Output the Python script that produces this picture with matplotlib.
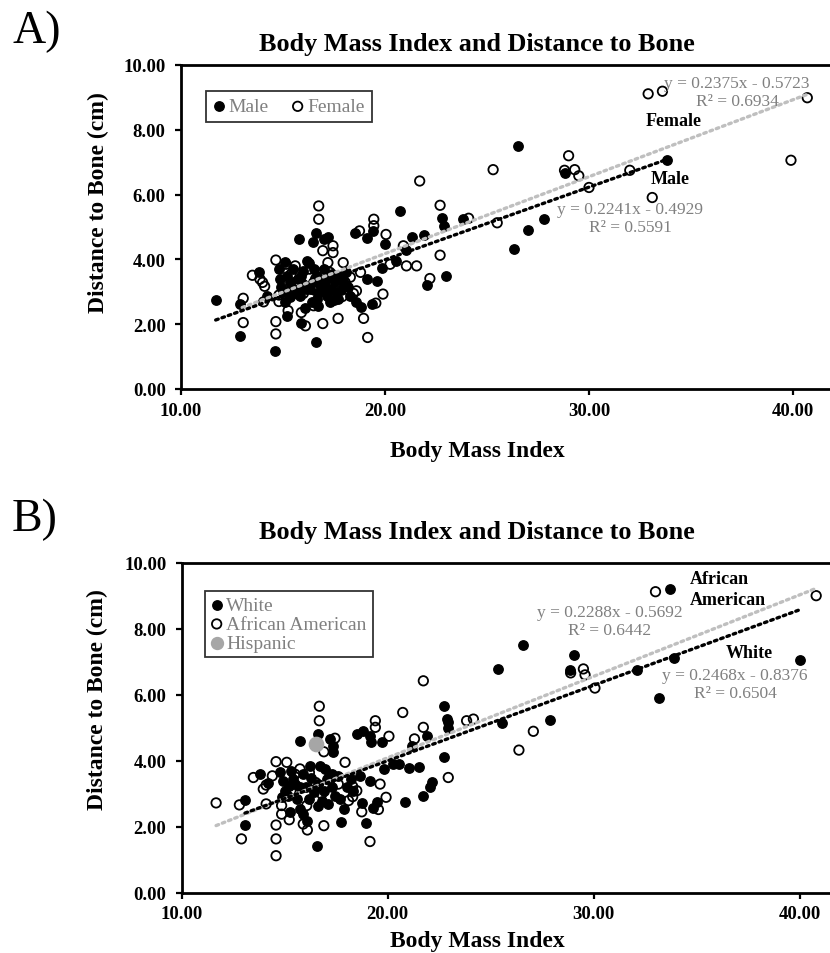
import matplotlib
matplotlib.use('Agg')
import matplotlib.pyplot as plt

plt.rcParams['font.family'] = ['Liberation Serif', 'DejaVu Serif']

# ---------------- data (BMI, distance to bone in cm) ----------------
a_male = [
    (11.7, 2.75), (12.9, 1.64), (12.9, 2.62), (13.8, 3.62), (14.2, 2.86), (14.6, 1.18),
    (15.2, 2.25), (15.8, 4.62), (16.6, 1.45), (16.6, 4.80), (16.45, 4.55), (17.0, 4.62),
    (17.2, 4.70), (15.9, 2.04), (16.1, 2.50), (16.7, 2.55), (17.7, 2.78), (18.3, 2.88),
    (18.6, 2.70), (18.8, 2.52), (18.55, 4.83), (19.1, 4.65), (19.4, 4.88), (19.1, 3.41),
    (19.35, 2.62), (19.6, 3.34), (19.85, 3.75), (20.0, 4.49), (20.55, 3.94), (20.75, 5.48),
    (21.05, 4.29), (21.3, 4.68), (21.9, 4.75), (22.05, 3.22), (22.8, 5.27), (22.9, 5.04),
    (23.0, 3.49), (23.8, 5.24), (26.3, 4.32), (26.5, 7.49), (27.0, 4.90), (27.8, 5.24),
    (28.8, 6.68), (33.8, 7.08),
    (14.8, 3.70), (14.85, 3.40), (15.2, 3.50), (15.35, 3.30), (15.5, 3.08), (15.75, 3.40),
    (16.0, 3.65), (16.25, 3.90), (16.15, 3.08), (16.45, 3.30), (16.65, 3.50), (16.9, 3.08),
    (17.05, 3.30), (17.3, 3.08), (17.55, 3.30), (17.7, 3.50), (17.95, 3.40), (18.1, 3.60),
    (17.0, 3.70), (15.5, 3.70), (15.85, 2.88), (16.65, 2.78), (17.15, 2.88), (17.3, 2.67),
    (15.35, 2.83), (15.1, 2.67), (16.4, 2.67), (17.6, 2.98), (16.3, 3.10), (15.0, 3.00),
    (15.6, 2.95), (16.8, 3.20), (17.4, 3.55), (18.2, 3.15), (16.0, 3.25), (15.1, 3.91),
    (16.2, 3.96), (14.9, 3.15), (15.9, 3.50), (16.5, 3.70), (17.2, 3.45), (17.85, 3.05),
    (15.4, 3.15), (16.7, 2.95), (17.5, 2.75), (18.0, 3.25), (15.7, 3.05),
]
a_female = [
    (13.05, 2.80), (13.05, 2.05), (13.5, 3.51), (13.87, 3.39), (14.0, 3.29), (14.1, 3.17),
    (14.05, 2.69), (14.65, 3.98), (14.65, 2.08), (14.65, 1.70), (14.8, 2.70), (14.8, 2.90),
    (15.15, 3.85), (15.25, 2.42), (15.9, 2.36), (16.1, 1.95), (16.5, 2.57), (16.95, 2.02),
    (16.75, 5.65), (16.75, 5.24), (16.95, 4.27), (17.45, 4.42), (17.45, 4.21), (17.2, 3.90),
    (17.3, 3.60), (17.95, 3.90), (17.7, 2.18), (18.05, 3.29), (18.6, 3.03), (18.8, 3.60),
    (18.95, 2.18), (19.15, 1.59), (18.75, 4.88), (19.45, 5.24), (19.45, 5.04), (20.05, 4.77),
    (19.9, 2.93), (19.55, 2.65), (20.25, 3.85), (20.9, 4.42), (21.05, 3.80), (21.55, 3.80),
    (21.7, 6.42), (22.2, 3.41), (22.7, 5.67), (22.7, 4.13), (24.1, 5.27), (25.3, 6.77),
    (25.5, 5.13), (28.8, 6.75), (29.0, 7.20), (29.3, 6.77), (29.5, 6.58), (30.0, 6.22),
    (32.0, 6.75), (33.1, 5.91), (32.9, 9.11), (33.6, 9.19), (40.7, 8.99), (39.9, 7.06),
    (15.6, 3.80), (16.3, 3.70), (16.6, 3.40), (15.8, 3.20), (17.7, 3.20), (16.0, 2.95),
    (18.3, 3.45), (18.45, 2.95), (15.4, 3.55), (16.9, 3.60), (17.9, 2.85), (16.55, 3.05),
]
b_white = [
    (13.07, 2.83), (13.07, 2.06), (13.8, 3.60), (14.2, 3.32), (14.77, 3.66), (14.9, 3.40),
    (14.85, 2.90), (15.17, 2.95), (15.26, 2.45), (15.74, 4.62), (16.6, 4.82), (16.55, 1.43),
    (17.2, 4.67), (17.36, 4.46), (17.36, 4.26), (16.05, 3.20), (16.23, 3.86), (15.5, 3.30),
    (15.74, 3.20), (16.7, 3.86), (16.96, 3.76), (17.04, 3.45), (17.28, 3.20), (17.44, 2.95),
    (17.68, 2.85), (17.73, 2.14), (18.0, 3.20), (18.66, 3.55), (18.95, 2.12), (18.74, 2.73),
    (19.14, 3.38), (19.3, 2.57), (19.47, 2.75), (18.5, 4.82), (18.8, 4.92), (19.14, 4.77),
    (19.2, 4.57), (19.7, 4.57), (19.83, 3.76), (20.27, 3.91), (20.55, 3.90), (16.63, 2.65),
    (15.74, 2.55), (15.9, 2.39), (16.07, 2.19), (20.84, 2.77), (21.05, 3.78), (21.16, 4.46),
    (21.53, 3.81), (21.73, 2.93), (21.92, 4.75), (22.06, 3.20), (22.14, 3.37), (22.73, 5.68),
    (22.73, 4.11), (22.94, 5.19), (22.86, 5.27), (22.94, 5.00), (25.53, 5.14), (25.37, 6.78),
    (26.55, 7.52), (27.88, 5.25), (28.85, 6.77), (29.06, 7.22), (32.09, 6.77), (33.18, 5.92),
    (33.7, 9.22), (33.91, 7.11), (40.0, 7.07),
    (15.0, 3.10), (15.3, 3.70), (15.6, 2.85), (16.3, 3.50), (16.4, 3.05), (16.9, 3.10),
    (17.1, 2.70), (17.6, 3.55), (18.2, 3.45), (16.2, 2.85), (15.4, 3.45), (17.9, 2.55),
    (15.9, 3.60), (16.6, 3.30), (17.3, 3.60), (15.2, 3.25), (16.8, 2.80), (18.3, 3.10),
]
b_african_american = [
    (11.67, 2.73), (12.8, 2.67), (12.9, 1.64), (13.48, 3.50), (13.96, 3.15), (14.1, 3.27),
    (14.1, 2.70), (14.58, 3.98), (14.58, 2.06), (14.58, 1.64), (14.58, 1.13), (14.85, 2.65),
    (14.85, 2.39), (15.1, 3.96), (15.22, 2.22), (15.74, 3.76), (16.07, 2.65), (15.9, 2.09),
    (16.1, 1.91), (16.68, 5.66), (16.68, 5.22), (16.9, 4.28), (16.9, 2.04), (17.44, 4.69),
    (17.93, 3.96), (18.3, 3.23), (18.3, 2.92), (18.74, 2.46), (19.14, 1.56), (19.4, 5.22),
    (19.4, 5.02), (19.63, 3.30), (19.55, 2.53), (19.92, 2.90), (20.06, 4.75), (20.73, 5.47),
    (21.3, 4.67), (21.73, 6.43), (21.73, 5.02), (22.94, 3.50), (23.83, 5.22), (24.16, 5.27),
    (27.07, 4.90), (26.37, 4.33), (28.88, 6.67), (29.5, 6.79), (29.58, 6.61), (30.06, 6.21),
    (33.0, 9.13), (40.8, 9.01),
    (15.5, 3.60), (16.2, 3.65), (16.5, 3.35), (17.2, 3.55), (17.6, 3.30), (18.1, 2.80),
    (15.3, 3.10), (16.8, 3.00), (18.5, 3.10), (14.4, 3.55),
]
b_hispanic = [(16.5, 4.52)]

# trendlines: slope, intercept, R^2, x-start, x-end
a_trend_female = (0.2375, -0.5723, 0.6934, 13.0, 40.7)   # light gray dotted
a_trend_male = (0.2241, -0.4929, 0.5591, 11.7, 33.8)     # black dotted
b_trend_gray = (0.2468, -0.8376, 0.6504, 11.67, 40.8)    # light gray dotted
b_trend_black = (0.2288, -0.5692, 0.6442, 13.07, 40.0)   # black dotted

x_ticks = [10, 20, 30, 40]
y_ticks = [0, 2, 4, 6, 8, 10]

# ---------------- figure ----------------
W, H = 830, 954
fig = plt.figure(figsize=(W / 100, H / 100), dpi=100)


def fx(px):
    return px / W


def fy(py):
    return 1 - py / H


GRAY_TXT = '#808080'
LIGHT = '#bfbfbf'


def unzip(pts):
    return [p[0] for p in pts], [p[1] for p in pts]


def trend(ax, coef, color):
    m, b, r2, x0, x1 = coef
    xs = [x0, x1]
    ys = [m * x + b for x in xs]
    ax.plot(xs, ys, color=color, lw=2.4, linestyle=(0, (0.8, 1.2)),
            dash_capstyle='round', zorder=5)


def eq_text(coef):
    m, b, r2, x0, x1 = coef
    return f"y = {m:.4f}x - {abs(b):.4f}\nR\u00b2 = {r2:.4f}"


def style_axes(ax, xmax):
    ax.set_xlim(10, xmax)
    ax.set_ylim(0, 10)
    ax.set_xticks(x_ticks)
    ax.set_yticks(y_ticks)
    ax.set_xticklabels([f"{v:.2f}" for v in x_ticks], fontweight='bold', fontsize=13.5)
    ax.set_yticklabels([f"{v:.2f}" for v in y_ticks], fontweight='bold', fontsize=13.5)
    ax.spines['right'].set_visible(False)
    for s in ['left', 'bottom', 'top']:
        ax.spines[s].set_linewidth(2.0)
    ax.tick_params(axis='both', direction='out', length=4, width=1.6)
    ax.tick_params(axis='y', pad=7)
    ax.tick_params(axis='x', pad=5)
    ax.tick_params(axis='x', which='both', top=False)


MS = 46

# ---------------- Panel A ----------------
axA = fig.add_axes([fx(181), fy(390), (W - 181) / W, (390 - 66) / H])
mx, my = unzip(a_male)
fxs, fys = unzip(a_female)
axA.scatter(mx, my, s=MS, color='black', label='Male', zorder=3)
axA.scatter(fxs, fys, s=MS, facecolors='none', edgecolors='black', linewidths=1.3,
            label='Female', zorder=3)
trend(axA, a_trend_female, LIGHT)
trend(axA, a_trend_male, 'black')
style_axes(axA, 10 + (W - 181) / 20.4)
legA = axA.legend(loc='upper left', bbox_to_anchor=((206 - 181) / 649, (390 - 92) / 324),
                  ncol=2, frameon=True, fancybox=False, borderaxespad=0,
                  handlelength=0.6, handletextpad=0.2, columnspacing=1.2,
                  borderpad=0.35, prop={'size': 14}, markerscale=1.0)
legA.get_frame().set_edgecolor('black')
legA.get_frame().set_linewidth(1.3)
for t in legA.get_texts():
    t.set_color(GRAY_TXT)

fig.text(fx(12), fy(32), 'A)', fontsize=33, va='center', ha='left')
fig.text(fx(477), fy(45), 'Body Mass Index and Distance to Bone', fontsize=18.8,
         fontweight='bold', ha='center', va='center')
fig.text(fx(477), fy(452), 'Body Mass Index', fontsize=17, fontweight='bold',
         ha='center', va='center')
fig.text(fx(98), fy(203), 'Distance to Bone (cm)', fontsize=17, fontweight='bold',
         rotation=90, ha='center', va='center')
fig.text(fx(737), fy(93), eq_text(a_trend_female), color=GRAY_TXT, fontsize=12.5,
         ha='center', va='center', multialignment='center', linespacing=1.15)
fig.text(fx(674), fy(122), 'Female', fontsize=13, fontweight='bold', ha='center', va='center')
fig.text(fx(670), fy(180), 'Male', fontsize=13, fontweight='bold', ha='center', va='center')
fig.text(fx(630), fy(219), eq_text(a_trend_male), color=GRAY_TXT, fontsize=12.5,
         ha='center', va='center', multialignment='center', linespacing=1.15)

# ---------------- Panel B ----------------
axB = fig.add_axes([fx(181.7), fy(894), (W - 181.7) / W, (894 - 564) / H])
wx, wy = unzip(b_white)
ax_, ay_ = unzip(b_african_american)
hx, hy = unzip(b_hispanic)
axB.scatter(wx, wy, s=MS, color='black', label='White', zorder=3)
axB.scatter(ax_, ay_, s=MS, facecolors='none', edgecolors='black', linewidths=1.3,
            label='African American', zorder=3)
axB.scatter(hx, hy, s=MS * 2.3, color='#a6a6a6', label='Hispanic', zorder=4)
trend(axB, b_trend_gray, LIGHT)
trend(axB, b_trend_black, 'black')
style_axes(axB, 10 + (W - 181.7) / 20.6)
legB = axB.legend(loc='upper left', bbox_to_anchor=((205 - 181.7) / 648.3, (894 - 592) / 330),
                  ncol=1, frameon=True, fancybox=False, borderaxespad=0,
                  handlelength=0.6, handletextpad=0.2, labelspacing=0.05,
                  borderpad=0.3, prop={'size': 14}, markerscale=1.0)
legB.get_frame().set_edgecolor('black')
legB.get_frame().set_linewidth(1.3)
for t in legB.get_texts():
    t.set_color(GRAY_TXT)
legB.legend_handles[2].set_sizes([MS * 1.6])

fig.text(fx(12), fy(520), 'B)', fontsize=33, va='center', ha='left')
fig.text(fx(477), fy(533), 'Body Mass Index and Distance to Bone', fontsize=18.8,
         fontweight='bold', ha='center', va='center')
fig.text(fx(477), fy(942), 'Body Mass Index', fontsize=17, fontweight='bold',
         ha='center', va='center')
fig.text(fx(97), fy(700), 'Distance to Bone (cm)', fontsize=17, fontweight='bold',
         rotation=90, ha='center', va='center')
fig.text(fx(690), fy(590), 'African\nAmerican', fontsize=13, fontweight='bold',
         ha='left', va='center', linespacing=1.25)
fig.text(fx(610), fy(622), eq_text(b_trend_black), color=GRAY_TXT, fontsize=12.5,
         ha='center', va='center', multialignment='center', linespacing=1.15)
fig.text(fx(749), fy(653), 'White', fontsize=13, fontweight='bold', ha='center', va='center')
fig.text(fx(735), fy(685), eq_text(b_trend_gray), color=GRAY_TXT, fontsize=12.5,
         ha='center', va='center', multialignment='center', linespacing=1.15)

fig.savefig('out.png', dpi=100)
